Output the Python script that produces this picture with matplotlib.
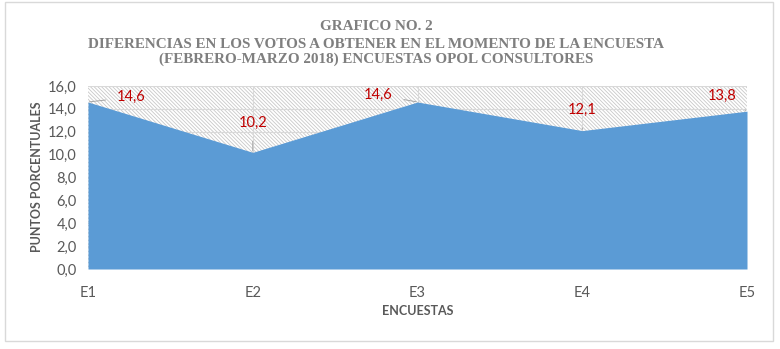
import matplotlib.pyplot as plt
from matplotlib.patches import Rectangle

encuestas = ["E1", "E2", "E3", "E4", "E5"]
puntos = [14.6, 10.2, 14.6, 12.1, 13.8]
etiquetas = ["14,6", "10,2", "14,6", "12,1", "13,8"]
yticks = [0, 2, 4, 6, 8, 10, 12, 14, 16]
ytick_labels = ["0,0", "2,0", "4,0", "6,0", "8,0", "10,0", "12,0", "14,0", "16,0"]

# label offsets in points (text position relative to the data point)
offsets = [(31, 3.5), (0, 21), (-28, 5), (0, 15), (-18, 11)]

plt.rcParams['font.family'] = ['Lato', 'DejaVu Sans']
plt.rcParams['hatch.color'] = '#c8c8c8'
plt.rcParams['hatch.linewidth'] = 0.6

fig = plt.figure(figsize=(7.8, 3.49), dpi=100)
fig.patches.append(Rectangle((5 / 780, 1 - 341 / 349), 768 / 780, 339 / 349,
                             transform=fig.transFigure, fill=False,
                             edgecolor='#d9d9d9', linewidth=1))

ax = fig.add_axes([88 / 780, 1 - 269 / 349, 659 / 780, 183 / 349])
x = list(range(len(encuestas)))

# hatched plot area background
ax.fill_between(x, 0, 16, facecolor='white', edgecolor='#c8c8c8', hatch='\\' * 9,
                linewidth=0, zorder=0.5)
for y in yticks[1:]:
    ax.axhline(y, color='#d9d9d9', linewidth=0.8, zorder=1)
for xi in x[1:-1]:
    ax.axvline(xi, color='#d9d9d9', linewidth=0.8, zorder=1)

ax.fill_between(x, 0, puntos, color='#5b9bd5', linewidth=0, zorder=2)

for xi, yi, lab, off in zip(x, puntos, etiquetas, offsets):
    ax.annotate(lab, (xi, yi), xytext=off, textcoords='offset points',
                ha='center', va='center', color='#c00000', fontsize=10.5,
                arrowprops=dict(arrowstyle='-', color='#a6a6a6', lw=0.7,
                                shrinkA=6, shrinkB=1), zorder=3)

ax.set_xlim(0, 4)
ax.set_ylim(0, 16)
ax.set_xticks(x)
ax.set_xticklabels(encuestas)
ax.set_yticks(yticks)
ax.set_yticklabels(ytick_labels)
ax.tick_params(axis='x', length=0, pad=12, labelsize=10.5, labelcolor='#595959')
ax.tick_params(axis='y', length=0, pad=8, labelsize=10.5, labelcolor='#595959')
for s in ax.spines.values():
    s.set_visible(False)

fig.text(37 / 780, 1 - 177 / 349, "PUNTOS PORCENTUALES", rotation=90, ha='center',
         va='center', fontsize=9, fontweight='bold', color='#595959')
fig.text(418 / 780, 1 - 311 / 349, "ENCUESTAS", ha='center', va='center',
         fontsize=9, fontweight='bold', color='#595959')

titulos = ["GRAFICO NO. 2",
           "DIFERENCIAS EN LOS VOTOS A OBTENER EN EL MOMENTO DE LA ENCUESTA",
           "(FEBRERO-MARZO 2018) ENCUESTAS OPOL CONSULTORES"]
for t, yy in zip(titulos, [27, 44, 59]):
    fig.text(376 / 780, 1 - yy / 349, t, ha='center', va='center', fontsize=10.9,
             fontweight='bold', color='#7f7f7f', family='Liberation Serif')

fig.savefig('out.png', dpi=100)
plt.close(fig)
